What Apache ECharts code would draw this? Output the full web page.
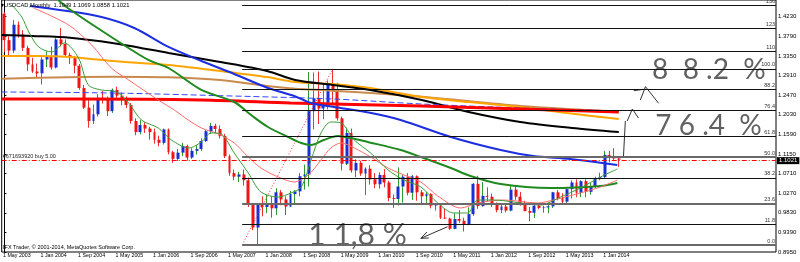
<!DOCTYPE html>
<html><head><meta charset="utf-8">
<script src="https://cdn.jsdelivr.net/npm/echarts@6/dist/echarts.min.js"></script>
<style>html,body{margin:0;padding:0;background:#fff}#c{width:800px;height:262px}</style>
</head><body><div id="c"></div>
<script>
// ---------- DATA ----------
const titleText = 'USDCAD,Monthly  1.1049 1.1069 1.0858 1.1021';
const copyrightText = 'IFX Trader, \u00a9 2001-2014, MetaQuotes Software Corp.';
const tickIdx = [0,8,16,24,32,40,48,56,64,72,80,88,96,104,112,120,128];
const tickLabels = ['1 May 2003','1 Jan 2004','1 Sep 2004','1 May 2005','1 Jan 2006','1 Sep 2006','1 May 2007','1 Jan 2008','1 Sep 2008','1 May 2009','1 Jan 2010','1 Sep 2010','1 May 2011','1 Jan 2012','1 Sep 2012','1 May 2013','1 Jan 2014'];
const priceTicks = [0.8950,0.9390,0.9830,1.0270,1.0710,1.1150,1.1590,1.2030,1.2470,1.2910,1.3350,1.3790,1.4230];

const opens = [
1.4300,1.3705,1.3470,1.4050,1.3830,1.3530,1.3160,1.3000,1.2960,1.3270,
1.3350,1.3090,1.3720,1.3620,1.3370,1.3300,1.3130,1.2630,1.2190,1.1890,
1.2040,1.2410,1.2360,1.2110,1.2590,1.2460,1.2370,1.2250,1.1890,1.1640,
1.1800,1.1720,1.1640,1.1470,1.1400,1.1700,1.1190,1.1040,1.1180,1.1330,
1.1070,1.1220,1.1260,1.1440,1.1660,1.1780,1.1710,1.1550,1.1100,1.0720,
1.0640,1.0690,1.0560,1.0010,0.9500,1.0020,0.9960,1.0030,0.9930,1.0290,
1.0130,0.9970,1.0250,1.0310,1.0650,1.0690,1.2110,1.2400,1.2170,1.2300,
1.2740,1.2600,1.1950,1.0930,1.1620,1.0780,1.0950,1.0710,1.0820,1.0580,
1.0470,1.0680,1.0510,1.0160,1.0140,1.0420,1.0640,1.0280,1.0650,1.0290,
1.0200,1.0250,0.9990,1.0000,0.9720,0.9700,0.9470,0.9690,0.9650,0.9560,
0.9800,1.0480,0.9980,1.0210,1.0190,1.0020,0.9890,0.9970,0.9880,1.0350,
1.0190,1.0030,0.9870,0.9830,0.9990,0.9940,0.9950,0.9975,1.0290,1.0160,
1.0080,1.0360,1.0510,1.0280,1.0540,1.0300,1.0430,1.0610,1.0630,1.1130,
1.1070,1.1049];
const highs = [
1.4330,1.3790,1.4160,1.4120,1.3930,1.3580,1.3310,1.3180,1.3320,1.3450,
1.3560,1.3750,1.3980,1.3720,1.3420,1.3350,1.3170,1.2700,1.2370,1.2260,
1.2490,1.2560,1.2440,1.2620,1.2660,1.2530,1.2440,1.2290,1.1950,1.1910,
1.1860,1.1760,1.1720,1.1560,1.1720,1.1720,1.1220,1.1260,1.1400,1.1360,
1.1280,1.1350,1.1500,1.1690,1.1850,1.1830,1.1790,1.1600,1.1140,1.0800,
1.0750,1.0800,1.0620,1.0050,1.0030,1.0200,1.0230,1.0200,1.0380,1.0340,
1.0200,1.0320,1.0340,1.0720,1.0910,1.2990,1.2980,1.3000,1.2740,1.2800,
1.3060,1.2750,1.1990,1.1740,1.1720,1.1030,1.1000,1.0850,1.0900,1.0720,
1.0740,1.0810,1.0550,1.0240,1.0850,1.0680,1.0720,1.0680,1.0670,1.0340,
1.0300,1.0270,1.0020,1.0010,0.9920,0.9720,0.9820,0.9890,0.9720,0.9950,
1.0500,1.0660,1.0520,1.0400,1.0260,1.0060,1.0020,1.0030,1.0450,1.0450,
1.0300,1.0100,0.9960,1.0040,1.0030,0.9990,1.0060,1.0300,1.0340,1.0270,
1.0380,1.0560,1.0580,1.0560,1.0580,1.0500,1.0640,1.0730,1.1220,1.1220,
1.1280,1.1069];
const lows = [
1.3440,1.3350,1.3410,1.3760,1.3460,1.3010,1.2970,1.2850,1.2710,1.3100,
1.3040,1.3070,1.3560,1.3330,1.3170,1.2960,1.2590,1.2160,1.1740,1.1820,
1.1990,1.2280,1.2000,1.2070,1.2390,1.2240,1.2180,1.1830,1.1570,1.1590,
1.1620,1.1470,1.1380,1.1320,1.1360,1.1140,1.0950,1.0990,1.1100,1.1000,
1.1040,1.1140,1.1220,1.1420,1.1600,1.1620,1.1500,1.1060,1.0660,1.0560,
1.0520,1.0440,0.9960,0.9440,0.9110,0.9750,0.9820,0.9720,0.9780,1.0000,
0.9780,0.9960,1.0050,1.0200,1.0350,1.0420,1.1700,1.1820,1.1930,1.2150,
1.2250,1.1900,1.0780,1.0900,1.0730,1.0630,1.0660,1.0230,1.0460,1.0380,
1.0370,1.0400,1.0090,0.9940,0.9990,1.0060,1.0220,1.0120,1.0100,1.0020,
1.0040,0.9930,0.9880,0.9690,0.9690,0.9450,0.9460,0.9600,0.9410,0.9550,
0.9760,0.9920,0.9970,1.0080,0.9960,0.9840,0.9820,0.9840,0.9860,1.0120,
0.9990,0.9860,0.9640,0.9710,0.9910,0.9830,0.9820,0.9940,1.0110,1.0010,
1.0040,1.0150,1.0180,1.0180,1.0180,1.0240,1.0390,1.0560,1.0600,1.0960,
1.0990,1.0858];
const closes = [
1.3705,1.3470,1.4050,1.3830,1.3530,1.3160,1.3000,1.2960,1.3270,1.3350,
1.3090,1.3720,1.3620,1.3370,1.3300,1.3130,1.2630,1.2190,1.1890,1.2040,
1.2410,1.2360,1.2110,1.2590,1.2460,1.2370,1.2250,1.1890,1.1640,1.1800,
1.1720,1.1640,1.1470,1.1400,1.1700,1.1190,1.1040,1.1180,1.1330,1.1070,
1.1220,1.1260,1.1440,1.1660,1.1780,1.1710,1.1550,1.1100,1.0720,1.0640,
1.0690,1.0560,1.0010,0.9500,1.0020,0.9960,1.0030,0.9930,1.0290,1.0130,
0.9970,1.0250,1.0310,1.0650,1.0690,1.2110,1.2400,1.2170,1.2300,1.2740,
1.2600,1.1950,1.0930,1.1620,1.0780,1.0950,1.0710,1.0820,1.0580,1.0470,
1.0680,1.0510,1.0160,1.0140,1.0420,1.0640,1.0280,1.0650,1.0290,1.0200,
1.0250,0.9990,1.0000,0.9720,0.9700,0.9470,0.9690,0.9650,0.9560,0.9800,
1.0480,0.9980,1.0210,1.0190,1.0020,0.9890,0.9970,0.9880,1.0350,1.0190,
1.0030,0.9870,0.9830,0.9990,0.9940,0.9950,0.9975,1.0290,1.0160,1.0080,
1.0360,1.0510,1.0280,1.0540,1.0300,1.0430,1.0610,1.0630,1.1130,1.1070,
1.1049,1.1021];

// indicator lines as [bar index, price]
const maThickRed = [[-0.6,1.2384],[16,1.2384],[42,1.2361],[61,1.2294],[70,1.2271],[89,1.2227],[110,1.2159],[131,1.2092]];
const maBlueDash = [[-0.6,1.2541],[23,1.2518],[46,1.2458],[70,1.2384],[89,1.2271],[110,1.2182],[131,1.2114]];
const maOrange = [[-0.6,1.3349],[7,1.3349],[14,1.3326],[23,1.3237],[35,1.3147],[46,1.3012],[56,1.2877],[62,1.2765],[70,1.2720],[78,1.2631],[89,1.2429],[99,1.2316],[110,1.2204],[120,1.2069],[131,1.1935]];
const maTan = [[-0.6,1.2840],[23,1.2884],[35,1.2870],[46,1.2810],[56,1.2675],[62,1.2615],[70,1.2570],[89,1.2435],[110,1.2227],[131,1.2101]];
const maBlack = [[-0.6,1.3820],[6,1.3798],[14,1.3760],[23,1.3640],[35,1.3416],[46,1.3214],[56,1.3012],[62,1.2810],[70,1.2698],[78,1.2586],[89,1.2361],[99,1.2092],[110,1.1867],[121,1.1733],[131,1.1643]];
const maBlue = [[5.5,1.4470],[11.8,1.4381],[20.7,1.4224],[27.7,1.3977],[35,1.3551],[42,1.3237],[49,1.2945],[56.2,1.2631],[61.8,1.2451],[65.4,1.2294],[70.3,1.2204],[78.2,1.2069],[84.5,1.1912],[95.2,1.1531],[105.8,1.1239],[112.8,1.1104],[120.7,1.1037],[130.7,1.0902]];
const maGreen = [[11.5,1.4605],[13.5,1.4426],[22.8,1.3775],[30.7,1.3259],[35,1.3079],[42,1.2586],[49,1.2316],[52.6,1.2024],[56.2,1.1755],[60.5,1.1531],[63.3,1.1396],[65.4,1.1351],[68.1,1.1464],[71.1,1.1553],[73.9,1.1508],[77.5,1.1419],[84.5,1.1239],[88.8,1.1082],[95.2,1.0835],[99.4,1.0656],[105.8,1.0476],[116.4,1.0386],[127.1,1.0431],[130.7,1.0499]];
const maThinRed = [[6.2,1.4426],[13.7,1.4044],[18.6,1.3596],[22.8,1.3079],[26.5,1.2810],[32.8,1.2361],[36.2,1.2137],[39.2,1.1912],[42,1.1733],[45.6,1.1598],[49,1.1396],[52,1.1082],[54.7,1.0835],[58.4,1.0633],[61.8,1.0521],[64.8,1.0678],[67.5,1.1015],[69.6,1.1284],[71.8,1.1396],[74.6,1.1284],[78.1,1.1082],[81.8,1.0835],[85.2,1.0678],[88.8,1.0521],[92.4,1.0207],[97.3,0.9937],[100.9,1.0050],[106.4,1.0117],[113.7,1.0050],[117.1,1.0117],[122.8,1.0274],[127.1,1.0409],[130.7,1.0566]];
const maThinGreen = [[1.6,1.4493],[3.7,1.4224],[5.2,1.3887],[7.3,1.3551],[10.1,1.3439],[12.8,1.3640],[15.8,1.3304],[17.9,1.2698],[20.7,1.2586],[23.9,1.2541],[26.5,1.2294],[29.2,1.1912],[32.8,1.1733],[35.6,1.1464],[39.3,1.1284],[42,1.1419],[44.1,1.1621],[46.2,1.1598],[49,1.1172],[52,1.0723],[54.7,1.0297],[58.4,1.0184],[61.1,1.0274],[63.3,1.0409],[65.4,1.1015],[67.5,1.1621],[69.6,1.1867],[71.8,1.1845],[74.6,1.1464],[78.1,1.1172],[81.8,1.0790],[85.2,1.0566],[88.8,1.0409],[92.4,1.0050],[95.8,0.9825],[98.8,0.9825],[100.9,1.0117],[104.3,1.0117],[110.1,1.0050],[114.3,1.0005],[118.6,1.0184],[122.8,1.0386],[127.1,1.0633],[130.7,1.0813]];

// Fibonacci retracement object
const fibLabels = ['0.0','11.8','23.6','38.2','50.0','61.8','76.4','88.2','100.0','110','123','136'];
const fibPrices = [0.9107,0.9573,1.0039,1.0616,1.1082,1.1548,1.2125,1.2591,1.3057,1.3452,1.3966,1.4479];
const fibStartIdx = 50.7;
const fibEndIdx = 70;

// order / price
const orderPrice = 1.1037;
const orderText = '#671693920 buy 5.00';
const bidPrice = 1.1021;

// hand-drawn notes [bar index, price]
const noteTexts = ['8  8 .2  %','7 6 .4  %','1 1,8 %'];
const notePos = [[138.1,1.3034],[138.8,1.1778],[64.8,0.9332]];
const arrowShaft = [[132.0,1.1082],[132.4,1.1890]];
const arrowHead = [[132.8,1.1890],[133.9,1.2159],[135.2,1.1957]];
const caretDash = [[134.2,1.2570],[136.3,1.2601]];
const caretHead = [[135.6,1.2361],[136.7,1.2660],[139.5,1.2287]];
const lowArrowLine = [[88.8,0.9257],[94.5,0.9518]];
const lowArrowHead = [[90.1,0.9399],[88.8,0.9257],[90.5,0.9264]];

// ---------- CHART ----------
const xMin = -0.574, xMax = 164.53;
const yMin = 0.895, yMax = 1.4605;
const BULL = '#1a2fd2', BEAR = '#f01414', BULL_WICK = '#2e9a2e', BEAR_WICK = '#f03030';
const FONT = 'Liberation Sans';

const idx = opens.map((_, i) => i);
const wickData = idx.map(i => [i, opens[i], closes[i], lows[i], highs[i]]);
const bodyData = idx.map(i => [i, opens[i], closes[i], Math.min(opens[i], closes[i]), Math.max(opens[i], closes[i])]);

const grayFib = {'0.0':1,'23.6':1,'50.0':1};
const fibMarks = fibPrices.map((p, k) => [
  {coord: [fibStartIdx, p], lineStyle: {color: grayFib[fibLabels[k]] ? '#6a6a6a' : '#111', width: grayFib[fibLabels[k]] ? 2 : 1, type: 'solid'},
   label: {show: true, position: 'insideEndTop', formatter: fibLabels[k], fontSize: 5.5, color: '#333', fontFamily: FONT, distance: 1}},
  {coord: [xMax, p]}
]);

function lineSeries(data, color, width, extra) {
  return Object.assign({type: 'line', data: data, symbol: 'none', showSymbol: false, smooth: 0.3, silent: true,
    lineStyle: {color: color, width: width}, animation: false}, extra || {});
}

const series = [
  {type: 'line', data: [[fibStartIdx, fibPrices[0]], [fibEndIdx, fibPrices[8]]], symbol: 'none', silent: true, animation: false,
   lineStyle: {color: '#ff3030', width: 1, type: [1, 2]},
   markLine: {symbol: 'none', silent: true, animation: false,
     data: fibMarks.concat([
       {yAxis: orderPrice, lineStyle: {color: '#ff0000', width: 1, type: [5, 2, 1, 2]},
        label: {show: true, position: 'insideStartTop', formatter: orderText, fontSize: 5.5, color: '#222', fontFamily: FONT, distance: 1}}
     ])}},
  {type: 'line', data: [], symbol: 'none', silent: true, animation: false,
   markLine: {symbol: 'none', silent: true, animation: false,
     data: [{yAxis: bidPrice, lineStyle: {color: 'rgba(0,0,0,0)', width: 1},
        label: {show: true, position: 'end', formatter: '1.1021', fontSize: 6, color: '#fff', backgroundColor: '#000', padding: [1, 2, 0, 2], fontFamily: FONT, distance: 1}}]}},
  lineSeries(maTan, '#c98a4e', 2),
  lineSeries(maOrange, '#ffa500', 2),
  lineSeries(maBlack, '#000000', 2),
  lineSeries(maBlueDash, '#3545ff', 1, {lineStyle: {color: '#3545ff', width: 1, type: [6, 3]}}),
  lineSeries(maThickRed, '#ff0000', 3),
  lineSeries(maBlue, '#1c2ee0', 2),
  lineSeries(maGreen, '#1f8a1f', 2),
  lineSeries(maThinRed, '#ff6a6a', 1),
  lineSeries(maThinGreen, '#3a9f3a', 1),
  {type: 'candlestick', data: wickData, barWidth: 1, silent: true, animation: false,
   itemStyle: {color: BULL, color0: BEAR, borderColor: BULL_WICK, borderColor0: BEAR_WICK, borderWidth: 1}},
  {type: 'candlestick', data: bodyData, barWidth: 3.4, silent: true, animation: false,
   itemStyle: {color: BULL, color0: BEAR, borderColor: BULL, borderColor0: BEAR, borderWidth: 0}},
  {type: 'scatter', silent: true, animation: false, symbolSize: 1, itemStyle: {color: 'rgba(0,0,0,0)'},
   data: notePos.map((p, k) => ({value: p, label: {formatter: noteTexts[k], fontSize: k < 2 ? 28 : 30}})),
   label: {show: true, position: 'inside', align: 'left', verticalAlign: 'middle', color: '#3a3a3a', fontFamily: 'Lato', fontWeight: 'normal'}},
  lineSeries(arrowShaft, '#333', 1, {smooth: false}),
  lineSeries(arrowHead, '#333', 1, {smooth: false}),
  lineSeries(caretDash, '#333', 1, {smooth: false}),
  lineSeries(caretHead, '#333', 1, {smooth: false}),
  lineSeries(lowArrowLine, '#333', 1, {smooth: false}),
  lineSeries(lowArrowHead, '#333', 1, {smooth: false})
];

const chart = echarts.init(document.getElementById('c'), null, {renderer: 'canvas'});
chart.setOption({
  animation: false,
  backgroundColor: '#fff',
  title: [
    {text: '\u25BE' + titleText, left: 1, top: 2, padding: 0, textStyle: {fontSize: 5.8, fontWeight: 'normal', color: '#000', fontFamily: FONT}},
    {text: copyrightText, left: 3, top: 244, padding: 0, textStyle: {fontSize: 5.5, fontWeight: 'normal', color: '#000', fontFamily: FONT}}
  ],
  grid: {left: 0, right: 24, top: 0, bottom: 10, show: true, borderColor: '#000', borderWidth: 1, backgroundColor: '#fff'},
  xAxis: {type: 'value', min: xMin, max: xMax, splitLine: {show: false}, axisLine: {show: false}, axisTick: {show: false},
    axisLabel: {customValues: tickIdx.map(v => v - 0.3), align: 'left', margin: 1, fontSize: 5.3, color: '#000', fontFamily: FONT,
      formatter: v => tickLabels[tickIdx.indexOf(Math.round(v + 0.3))] || ''}},
  yAxis: {type: 'value', position: 'right', min: yMin, max: yMax, splitLine: {show: false}, scale: true,
    axisLine: {show: true, lineStyle: {color: '#000', width: 1}},
    axisTick: {show: true, customValues: priceTicks, length: 2, lineStyle: {color: '#000'}},
    axisLabel: {customValues: priceTicks, formatter: v => v.toFixed(4), fontSize: 6, color: '#000', margin: 2, fontFamily: FONT}},
  series: series
});
</script>
</body></html>
